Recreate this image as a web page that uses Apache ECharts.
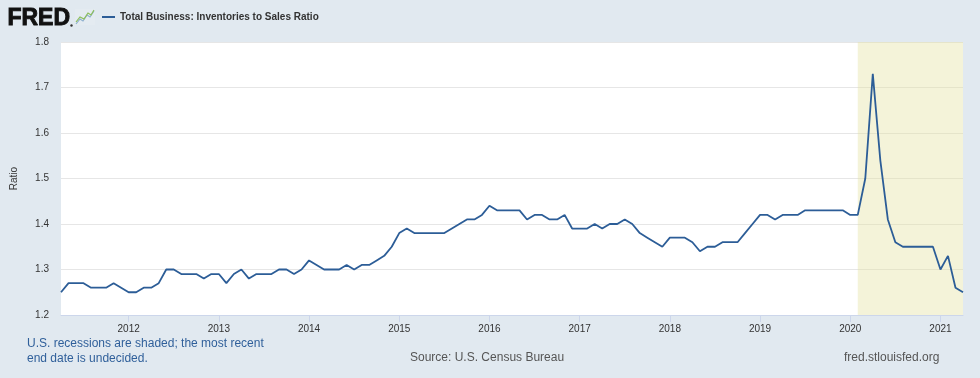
<!DOCTYPE html>
<html>
<head>
<meta charset="utf-8">
<script src="https://cdn.jsdelivr.net/npm/echarts@6/dist/echarts.min.js"></script>
<style>
html,body{margin:0;padding:0;background:#e1e9f0;}
#c{width:980px;height:378px;}
</style>
</head>
<body>
<div id="c"></div>
<script>
// Monthly observations, April 2011 through April 2021
const startYear = 2011, startMonth = 4, monthCount = 121;
const months = [];
for (let i = 0; i < monthCount; i++) {
  const m = startMonth - 1 + i;
  const y = startYear + Math.floor(m / 12);
  const mm = (m % 12) + 1;
  months.push(y + '-' + (mm < 10 ? '0' : '') + mm);
}

const ratio = [
  // 2011 Apr-Dec
  1.25, 1.27, 1.27, 1.27, 1.26, 1.26, 1.26, 1.27, 1.26,
  // 2012
  1.25, 1.25, 1.26, 1.26, 1.27, 1.30, 1.30, 1.29, 1.29, 1.29, 1.28, 1.29,
  // 2013
  1.29, 1.27, 1.29, 1.30, 1.28, 1.29, 1.29, 1.29, 1.30, 1.30, 1.29, 1.30,
  // 2014
  1.32, 1.31, 1.30, 1.30, 1.30, 1.31, 1.30, 1.31, 1.31, 1.32, 1.33, 1.35,
  // 2015
  1.38, 1.39, 1.38, 1.38, 1.38, 1.38, 1.38, 1.39, 1.40, 1.41, 1.41, 1.42,
  // 2016
  1.44, 1.43, 1.43, 1.43, 1.43, 1.41, 1.42, 1.42, 1.41, 1.41, 1.42, 1.39,
  // 2017
  1.39, 1.39, 1.40, 1.39, 1.40, 1.40, 1.41, 1.40, 1.38, 1.37, 1.36, 1.35,
  // 2018
  1.37, 1.37, 1.37, 1.36, 1.34, 1.35, 1.35, 1.36, 1.36, 1.36, 1.38, 1.40,
  // 2019
  1.42, 1.42, 1.41, 1.42, 1.42, 1.42, 1.43, 1.43, 1.43, 1.43, 1.43, 1.43,
  // 2020
  1.42, 1.42, 1.50, 1.73, 1.54, 1.41, 1.36, 1.35, 1.35, 1.35, 1.35, 1.35,
  // 2021 Jan-Apr
  1.30, 1.33, 1.26, 1.25
];

const recessionStart = '2020-02';
const recessionEnd = '2021-04';
const yMin = 1.2, yMax = 1.8, yStep = 0.1;
const seriesName = 'Total Business: Inventories to Sales Ratio';
const yAxisTitle = 'Ratio';
const noteLines = ['U.S. recessions are shaded; the most recent', 'end date is undecided.'];
const sourceText = 'Source: U.S. Census Bureau';
const siteText = 'fred.stlouisfed.org';

const FONT = '"Liberation Sans", Arial, Helvetica, sans-serif';
const isJan = (idx, val) => /-01$/.test(val);

const chart = echarts.init(document.getElementById('c'), null, {renderer: 'canvas'});
chart.setOption({
  backgroundColor: '#e1e9f0',
  animation: false,
  textStyle: {fontFamily: FONT},
  grid: {left: 61, right: 17, top: 42, bottom: 63, show: true, backgroundColor: '#ffffff', borderWidth: 0},
  legend: {
    show: true, left: 102, top: 12, padding: 0, itemWidth: 13, itemHeight: 2, itemGap: 6,
    icon: 'rect',
    data: [seriesName],
    textStyle: {fontFamily: FONT, fontSize: 10, fontWeight: 'bold', color: '#333333', padding: [0, 0, 0, 0]},
    selectedMode: false
  },
  xAxis: {
    type: 'category',
    data: months,
    boundaryGap: false,
    axisLine: {show: true, lineStyle: {color: '#ccd6eb', width: 1}},
    axisTick: {show: true, interval: isJan, length: 7, lineStyle: {color: '#ccd6eb'}},
    axisLabel: {interval: isJan, formatter: v => v.slice(0, 4), color: '#333333', fontSize: 10, margin: 9, fontFamily: FONT},
    splitLine: {show: false}
  },
  yAxis: {
    type: 'value',
    min: yMin, max: yMax, interval: yStep,
    name: yAxisTitle, nameLocation: 'middle', nameGap: 42, nameRotate: 90,
    nameTextStyle: {color: '#333333', fontSize: 10, fontFamily: FONT},
    axisLine: {show: false},
    axisTick: {show: false},
    axisLabel: {formatter: v => v.toFixed(1), color: '#333333', fontSize: 10, margin: 12, fontFamily: FONT},
    splitLine: {show: true, lineStyle: {color: '#e6e6e6', width: 1}}
  },
  series: [{
    name: seriesName,
    type: 'line',
    data: ratio,
    showSymbol: false,
    symbol: 'none',
    color: '#2c5d97',
    lineStyle: {color: '#2c5d97', width: 1.8},
    markArea: {
      silent: true,
      itemStyle: {color: 'rgba(228,226,160,0.4)'},
      data: [[{xAxis: recessionStart}, {xAxis: recessionEnd}]]
    }
  }],
  graphic: [
    {type: 'text', left: 7, top: 7, style: {text: 'FRED', font: 'bold 23px ' + FONT, fill: '#111111', stroke: '#111111', lineWidth: 0.9}},
    {type: 'circle', shape: {cx: 71.5, cy: 25.5, r: 1.2}, style: {fill: '#333'}},
    {type: 'rect', shape: {x: 75, y: 9, width: 20, height: 16}, style: {fill: '#e4ebf1'}},
    {type: 'polyline', shape: {points: [[76, 24], [80, 19], [83, 21], [87, 15], [90, 17], [94, 11]]}, style: {stroke: '#8fb0cf', lineWidth: 1.2, fill: null}},
    {type: 'polyline', shape: {points: [[76, 22], [80, 17], [84, 19], [88, 13], [91, 15], [94, 10]]}, style: {stroke: '#8cbf5a', lineWidth: 1.2, fill: null}},
    {type: 'text', left: 27, top: 336, style: {text: noteLines.join('\n'), font: '12px ' + FONT, fill: '#2f5f9a', lineHeight: 15}},
    {type: 'text', left: 410, top: 352, style: {text: sourceText, font: '12px ' + FONT, fill: '#555555'}},
    {type: 'text', left: 844, top: 352, style: {text: siteText, font: '12px ' + FONT, fill: '#555555'}}
  ]
});
</script>
</body>
</html>
